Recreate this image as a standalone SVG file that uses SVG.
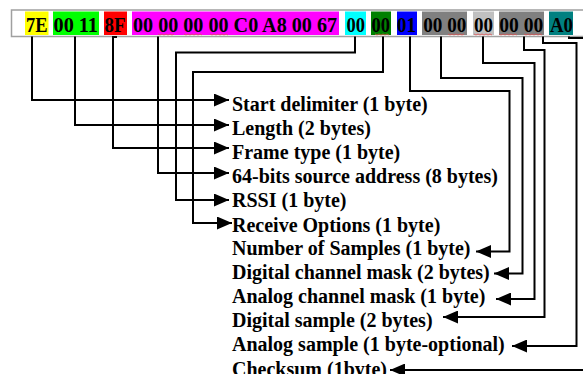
<svg xmlns="http://www.w3.org/2000/svg" width="583" height="374" viewBox="0 0 583 374">
<style>
.fld{font-family:"Liberation Serif","Times New Roman",serif;font-weight:bold;font-size:22px;fill:#000}
.lbl{font-family:"Liberation Serif","Times New Roman",serif;font-weight:bold;font-size:20px;fill:#000}
.con{fill:none;stroke:#000;stroke-width:2}
.sq{fill:none;stroke:#e05050;stroke-width:0.8}
</style>
<defs>
<marker id="ah" viewBox="0 0 15 13" refX="15" refY="6.5" markerWidth="15" markerHeight="13" markerUnits="userSpaceOnUse" orient="auto">
<path d="M0,0 L15,6.5 L0,13 z" fill="#000"/>
</marker>
</defs>
<rect width="583" height="374" fill="#fff"/>
<g id="frame-bar">
<path d="M590,10 H11.5 V36.5 H590" fill="#fff" stroke="#a0a0a0" stroke-width="1.5"/>
</g>
<g id="f-start"><rect x="25" y="11.5" width="23.5" height="23.5" fill="#ffff00"/><text class="fld" x="26" y="32.3" textLength="21.5" lengthAdjust="spacingAndGlyphs">7E</text></g>
<g id="f-length"><rect x="53" y="11.5" width="46" height="23.5" fill="#00ff00"/><text class="fld" x="53.5" y="32.3" textLength="44.5" lengthAdjust="spacingAndGlyphs">00 11</text></g>
<g id="f-type"><rect x="104" y="11.5" width="23" height="23.5" fill="#ff0000"/><text class="fld" x="104.5" y="32.3" textLength="21" lengthAdjust="spacingAndGlyphs">8F</text></g>
<g id="f-addr"><rect x="132" y="11.5" width="207" height="23.5" fill="#ff00ff"/><text class="fld" x="133" y="32.3" textLength="204" lengthAdjust="spacingAndGlyphs">00 00 00 00 C0 A8 00 67</text></g>
<g id="f-rssi"><rect x="345" y="11.5" width="21" height="23.5" fill="#00ffff"/><text class="fld" x="346.5" y="32.3" textLength="18.5" lengthAdjust="spacingAndGlyphs">00</text></g>
<g id="f-opts"><rect x="371" y="11.5" width="20" height="23.5" fill="#008000"/><text class="fld" x="371.5" y="32.3" textLength="18.5" lengthAdjust="spacingAndGlyphs">00</text></g>
<g id="f-nsamp"><rect x="397" y="11.5" width="20" height="23.5" fill="#0000ff"/><text class="fld" x="397" y="32.3" textLength="19" lengthAdjust="spacingAndGlyphs">01</text></g>
<g id="f-dmask"><rect x="422" y="11.5" width="45" height="23.5" fill="#808080"/><text class="fld" x="423.3" y="32.3" textLength="43" lengthAdjust="spacingAndGlyphs">00 00</text></g>
<g id="f-amask"><rect x="473" y="11.5" width="21" height="23.5" fill="#c0c0c0"/><text class="fld" x="474" y="32.3" textLength="19" lengthAdjust="spacingAndGlyphs">00</text></g>
<g id="f-dsamp"><rect x="499" y="11.5" width="45" height="23.5" fill="#808080"/><text class="fld" x="499.3" y="32.3" textLength="44" lengthAdjust="spacingAndGlyphs">00 00</text></g>
<g id="f-cks"><rect x="549" y="11.5" width="24" height="23.5" fill="#008080"/><text class="fld" x="550" y="32.3" textLength="23" lengthAdjust="spacingAndGlyphs">A0</text></g>
<g id="spell-marks">
<path class="sq" d="M158,34 l2,1 l2,-1 l2,1 l2,-1 l2,1 l2,-1 l2,1 l2,-1"/>
<path class="sq" d="M184,34 l2,1 l2,-1 l2,1 l2,-1 l2,1 l2,-1 l2,1 l2,-1 l2,1"/>
<path class="sq" d="M210,34 l2,1 l2,-1 l2,1 l2,-1 l2,1 l2,-1 l2,1 l2,-1 l2,1"/>
<path class="sq" d="M375,34 l2,1 l2,-1 l2,1 l2,-1 l2,1 l2,-1 l2,1"/>
<path class="sq" d="M448,34 l2,1 l2,-1 l2,1 l2,-1 l2,1 l2,-1 l2,1 l2,-1"/>
<path class="sq" d="M474,34 l2,1 l2,-1 l2,1 l2,-1 l2,1 l2,-1 l2,1 l2,-1 l2,1"/>
<path class="sq" d="M499,34 l2,1 l2,-1 l2,1 l2,-1 l2,1 l2,-1 l2,1 l2,-1 l2,1"/>
<path class="sq" d="M524,34 l2,1 l2,-1 l2,1 l2,-1 l2,1 l2,-1 l2,1 l2,-1 l2,1"/>
</g>
<g id="connectors">
<path class="con" d="M32,36.5 V100 H229" marker-end="url(#ah)"/>
<path class="con" d="M75,36.5 V125 H229" marker-end="url(#ah)"/>
<path class="con" d="M117,37 H113 V148 H229" marker-end="url(#ah)"/>
<path class="con" d="M158,36.5 V173 H229" marker-end="url(#ah)"/>
<path class="con" d="M355,36.5 V52.5 H176 V200 H229" marker-end="url(#ah)"/>
<path class="con" d="M383,36.5 V72 H193 V223 H232" marker-end="url(#ah)"/>
<path class="con" d="M410,36.5 V91 H509.5 V251.5 H476" marker-end="url(#ah)"/>
<path class="con" d="M441,36.5 V78 H522.5 V273.5 H494" marker-end="url(#ah)"/>
<path class="con" d="M483,36.5 V63 H534.5 V299 H496" marker-end="url(#ah)"/>
<path class="con" d="M524,36.5 V50 H544.5 V317 H443" marker-end="url(#ah)"/>
<path class="con" d="M543,36.5 V43 H576.5 V346 H512" marker-end="url(#ah)"/>
<path class="con" d="M569,36.5 V38 H590"/>
<path class="con" d="M590,370 H390" marker-end="url(#ah)"/>
</g>
<g id="l-start"><text class="lbl" x="232" y="111">Start delimiter (1 byte)</text></g>
<g id="l-length"><text class="lbl" x="232" y="135">Length (2 bytes)</text></g>
<g id="l-type"><text class="lbl" x="232" y="159">Frame type (1 byte)</text></g>
<g id="l-addr"><text class="lbl" x="232" y="183">64-bits source address (8 bytes)</text></g>
<g id="l-rssi"><text class="lbl" x="232" y="207">RSSI (1 byte)</text></g>
<g id="l-opts"><text class="lbl" x="232" y="232">Receive Options (1 byte)</text></g>
<g id="l-nsamp"><text class="lbl" x="232" y="255">Number of Samples (1 byte)</text></g>
<g id="l-dmask"><text class="lbl" x="232" y="279">Digital channel mask (2 bytes)</text></g>
<g id="l-amask"><text class="lbl" x="232" y="303">Analog channel mask (1 byte)</text></g>
<g id="l-dsamp"><text class="lbl" x="232" y="327">Digital sample (2 bytes)</text></g>
<g id="l-asamp"><text class="lbl" x="232" y="351">Analog sample (1 byte-optional)</text></g>
<g id="l-cks"><text class="lbl" x="232" y="376">Checksum (1byte)</text></g>
</svg>
